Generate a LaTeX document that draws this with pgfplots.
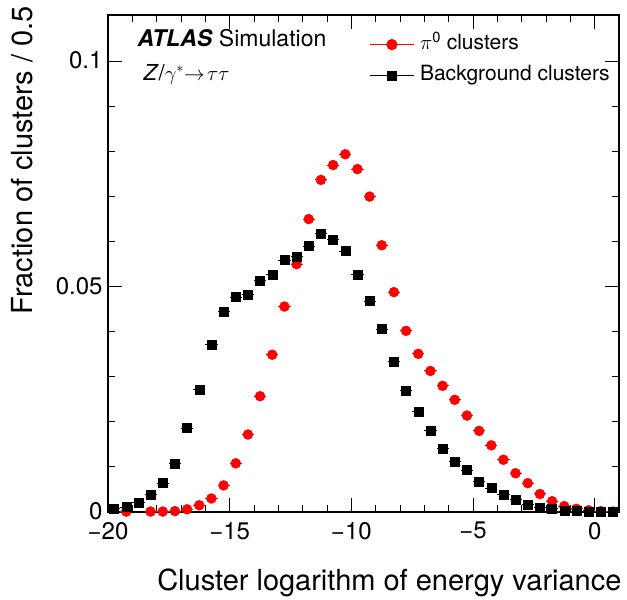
\documentclass[border=0pt]{standalone}
\usepackage{fontspec}
\setmainfont{TeX Gyre Heros}
\usepackage{pgfplots}
\usepackage{pgfplotstable}
\pgfplotsset{compat=1.18}

% pi0 clusters, bin width 0.5
\pgfplotstableread{
x y
-19.25 0.0001
-18.25 0.0001
-17.75 0.0001
-17.25 0.0002
-16.75 0.0006
-16.25 0.0015
-15.75 0.0030
-15.25 0.0059
-14.75 0.0108
-14.25 0.0172
-13.75 0.0257
-13.25 0.0349
-12.75 0.0456
-12.25 0.0550
-11.75 0.0650
-11.25 0.0737
-10.75 0.0770
-10.25 0.0794
-9.75 0.0761
-9.25 0.0700
-8.75 0.0592
-8.25 0.0488
-7.75 0.0402
-7.25 0.0351
-6.75 0.0313
-6.25 0.0280
-5.75 0.0249
-5.25 0.0214
-4.75 0.0180
-4.25 0.0148
-3.75 0.0116
-3.25 0.0086
-2.75 0.0064
-2.25 0.0040
-1.75 0.0024
-1.25 0.0013
-0.75 0.0007
-0.25 0.0004
0.25 0.0002
0.75 0.0001
}\pizero

% background clusters
\pgfplotstableread{
x y
-19.75 0.0007
-19.25 0.0011
-18.75 0.0020
-18.25 0.0038
-17.75 0.0064
-17.25 0.0107
-16.75 0.0186
-16.25 0.0271
-15.75 0.0371
-15.25 0.0444
-14.75 0.0477
-14.25 0.0482
-13.75 0.0513
-13.25 0.0526
-12.75 0.0559
-12.25 0.0566
-11.75 0.0590
-11.25 0.0617
-10.75 0.0604
-10.25 0.0579
-9.75 0.0526
-9.25 0.0468
-8.75 0.0406
-8.25 0.0333
-7.75 0.0269
-7.25 0.0222
-6.75 0.0180
-6.25 0.0140
-5.75 0.0111
-5.25 0.0093
-4.75 0.0067
-4.25 0.0053
-3.75 0.0038
-3.25 0.0027
-2.75 0.0016
-2.25 0.0009
-1.75 0.0007
-1.25 0.0002
-0.75 0.0002
-0.25 0.0001
0.25 0.0000
0.75 0.0000
}\bkg

\begin{document}
\begin{tikzpicture}
  \begin{axis}[
      name=ax,
      scale only axis,
      width=511pt, height=497pt,
      xmin=-20, xmax=1,
      ymin=0, ymax=0.1103,
      xtick={-20,-15,-10,-5,0},
      xticklabels={−20,−15,−10,−5,0},
      ytick={0,0.05,0.1},
      yticklabels={0,0.05,0.1},
      minor x tick num=4,
      minor y tick num=4,
      scaled y ticks=false,
      tick align=inside,
      major tick length=14pt,
      minor tick length=7pt,
      every tick/.style={black, line width=0.9pt},
      axis line style={line width=1.2pt},
      tick label style={font=\fontsize{24}{28}\selectfont},
      yticklabel style={xshift=-2pt, yshift=1pt},
      xticklabel style={yshift=-8pt, inner sep=2pt},
      xlabel={Cluster logarithm of energy variance},
      ylabel={Fraction of clusters / 0.5},
      label style={font=\fontsize{29}{34}\selectfont},
      xlabel style={at={(axis description cs:1.0117,-0.157)}, anchor=base east},
      ylabel style={at={(axis description cs:-0.1468,1.0241)}, anchor=base east},
      legend image code/.code={
        \draw[mark repeat=2, mark phase=2, #1]
          plot coordinates {(0pt,0pt) (22pt,0pt) (44pt,0pt)};},
      legend style={
        at={(axis description cs:0.511,0.972)}, anchor=north west,
        draw=none, fill=none, inner sep=0pt,
        font=\fontsize{21}{25}\selectfont,
        nodes={inner sep=5.5pt, text height=15pt, text depth=5pt},
        /tikz/every even column/.append style={column sep=4pt},
      },
      legend cell align=left,
    ]

    \addplot[only marks, red, mark=*, mark size=5pt, forget plot,
      error bars/.cd, x dir=both, x fixed=0.25,
      error bar style={red, line width=1pt}, error mark=none]
      table[x=x, y=y] {\pizero};

    \addplot[only marks, black, mark=square*, mark size=4.5pt, forget plot,
      error bars/.cd, x dir=both, x fixed=0.25,
      error bar style={black, line width=1pt}, error mark=none]
      table[x=x, y=y] {\bkg};

    \addlegendimage{red, line width=1.2pt, mark=*, mark size=5pt}
    \addlegendentry{$\pi$\textsuperscript{0} clusters}
    \addlegendimage{black, line width=1.2pt, mark=square*, mark size=4.5pt}
    \addlegendentry{Background clusters}

    \node[anchor=base west, font=\fontsize{23}{28}\selectfont]
      at (axis description cs:0.051,0.9376)
      {\textbf{\textit{ATLAS}} Simulation};
    \node[anchor=base west, font=\fontsize{22}{27}\selectfont]
      at (axis description cs:0.0626,0.869)
      {\textit{Z}/$\gamma^{*}\mkern-5mu\rightarrow\mkern-3mu\tau\tau$};
  \end{axis}
  \pgfresetboundingbox
  \path[use as bounding box]
    ([shift={(-108pt,-87pt)}]ax.south west) rectangle ([shift={(8pt,15pt)}]ax.north east);
\end{tikzpicture}
\end{document}
